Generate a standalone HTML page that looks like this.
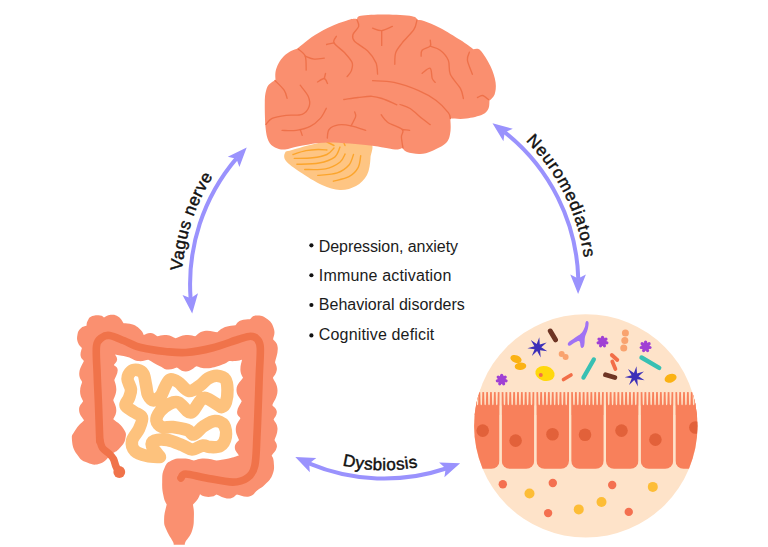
<!DOCTYPE html>
<html><head><meta charset="utf-8"><style>html,body{margin:0;padding:0;background:#fff;width:768px;height:547px;overflow:hidden}svg{display:block}</style></head>
<body><svg width="768" height="547" viewBox="0 0 768 547"><defs><path id="tv" d="M182.2,270.7 A202.5,202.5 0 0 1 497.1,116.4" fill="none"/><path id="tn" d="M525.7,141.0 A201.5,201.5 0 0 1 437.7,478.7" fill="none"/><path id="td" d="M342.4,465.5 A185.8,185.8 0 0 0 561.9,230.1" fill="none"/><clipPath id="mc"><circle cx="585.8" cy="425.9" r="111.7"/></clipPath></defs><path d="M285.0,153.0 C286.0,151.2 284.5,152.0 292.0,150.0 C299.5,148.0 317.2,142.3 330.0,141.0 C342.8,139.7 362.2,139.2 369.0,142.0 C375.8,144.8 370.8,152.5 370.5,158.0 C370.2,163.5 369.4,170.3 367.0,175.0 C364.6,179.7 360.5,183.5 356.0,186.0 C351.5,188.5 345.7,190.2 340.0,190.0 C334.3,189.8 328.7,188.0 322.0,185.0 C315.3,182.0 306.0,176.0 300.0,172.0 C294.0,168.0 288.5,164.2 286.0,161.0 C283.5,157.8 284.0,154.8 285.0,153.0Z" fill="#fec583"/><path d="M293.0,154.5 C295.2,153.8 301.8,151.4 306.0,150.6 C310.2,149.8 314.5,149.6 318.0,149.5 C321.5,149.4 325.4,149.9 326.9,150.0" fill="none" stroke="#fca52c" stroke-width="1.4" stroke-linecap="round"/><path d="M294.3,158.4 C297.4,158.3 307.2,158.5 312.6,157.8 C318.0,157.2 323.3,156.1 326.9,154.5 C330.5,152.9 332.8,149.1 334.0,148.0" fill="none" stroke="#fca52c" stroke-width="1.4" stroke-linecap="round"/><path d="M296.9,164.3 C300.6,164.1 312.7,164.2 319.0,163.0 C325.3,161.8 331.2,159.8 334.7,157.1 C338.2,154.4 339.1,148.7 340.0,147.0" fill="none" stroke="#fca52c" stroke-width="1.4" stroke-linecap="round"/><path d="M304.7,169.5 C308.2,169.4 319.7,170.1 325.6,168.9 C331.5,167.7 336.6,164.8 339.9,162.3 C343.1,159.8 344.2,155.4 345.1,154.0" fill="none" stroke="#fca52c" stroke-width="1.4" stroke-linecap="round"/><path d="M317.8,175.4 C321.1,175.0 332.1,174.5 337.3,172.8 C342.5,171.1 346.3,168.1 349.0,165.0 C351.7,161.9 352.8,156.2 353.5,154.5" fill="none" stroke="#fca52c" stroke-width="1.4" stroke-linecap="round"/><path d="M333.4,181.2 C336.0,180.4 344.9,179.0 349.0,176.7 C353.1,174.4 356.2,171.1 358.1,167.6 C360.1,164.1 360.3,157.8 360.7,155.8" fill="none" stroke="#fca52c" stroke-width="1.4" stroke-linecap="round"/><path d="M327.0,142.0 C328.2,142.6 332.8,144.9 334.0,145.5" fill="none" stroke="#fca52c" stroke-width="1.4" stroke-linecap="round"/><path d="M344.0,143.0 C344.2,143.4 344.8,145.1 345.0,145.5" fill="none" stroke="#fca52c" stroke-width="1.4" stroke-linecap="round"/><path d="M357.0,19.0 C357.7,18.5 356.2,16.5 361.0,15.8 C365.8,15.1 377.3,14.5 385.8,14.6 C394.3,14.7 406.8,15.4 412.1,16.3 C417.4,17.2 416.6,19.3 417.5,19.9 C418.6,20.1 420.2,19.6 424.0,21.0 C427.8,22.4 434.1,24.8 440.2,28.0 C446.3,31.2 454.9,36.6 460.4,40.1 C465.9,43.6 471.2,47.7 473.4,49.2 C474.6,49.4 477.6,47.6 480.5,50.5 C483.4,53.4 488.0,61.0 490.5,66.3 C493.0,71.6 494.9,77.7 495.6,82.4 C496.3,87.1 495.6,91.4 494.6,94.4 C493.6,97.4 490.4,99.5 489.5,100.5 C489.3,101.8 489.7,106.2 488.5,108.5 C487.3,110.8 486.2,112.9 482.5,114.6 C478.8,116.3 471.8,117.9 466.4,118.6 C461.0,119.3 453.0,118.6 450.3,118.6 C450.3,120.7 451.1,127.0 450.5,131.0 C449.9,135.0 449.6,139.2 446.5,142.5 C443.4,145.8 436.4,149.1 432.0,151.0 C427.6,152.9 424.2,153.8 420.0,154.0 C415.8,154.2 409.9,153.0 407.0,152.0 C404.1,151.0 403.2,148.7 402.5,148.0 C401.2,148.2 400.4,149.9 395.0,149.5 C389.6,149.1 381.2,146.7 370.0,145.5 C358.8,144.3 339.7,142.4 328.0,142.5 C316.3,142.6 307.2,144.8 300.0,146.0 C292.8,147.2 289.2,149.2 285.0,149.5 C280.8,149.8 277.8,148.9 275.0,147.5 C272.2,146.1 270.1,144.4 268.5,141.0 C266.9,137.6 266.1,133.5 265.5,127.0 C264.9,120.5 264.7,108.0 264.8,102.0 C264.9,96.0 265.3,93.9 266.0,91.0 C266.7,88.1 267.4,86.3 269.0,84.5 C270.6,82.7 274.4,80.8 275.5,80.0 C275.5,78.7 275.0,74.8 275.5,72.0 C276.0,69.2 277.1,66.2 278.5,63.5 C279.9,60.8 281.9,58.1 284.0,56.0 C286.1,53.9 288.8,52.2 291.0,51.0 C293.2,49.8 296.4,48.9 297.5,48.5 C298.4,47.8 300.1,46.2 303.0,44.0 C305.9,41.8 310.2,38.0 315.0,35.0 C319.8,32.0 326.2,28.6 332.0,26.0 C337.8,23.4 345.8,20.7 350.0,19.5 C354.2,18.3 355.8,19.1 357.0,19.0Z" fill="#fa8f6f"/><path d="M298.2,49.0 C299.4,50.2 303.9,52.6 305.2,56.1 C306.5,59.6 306.0,67.8 306.2,70.1" fill="none" stroke="#ee714a" stroke-width="1.35" stroke-linecap="round"/><path d="M305.2,56.1 C306.7,56.6 311.0,58.8 314.2,59.1 C317.4,59.4 322.6,58.3 324.3,58.1" fill="none" stroke="#ee714a" stroke-width="1.35" stroke-linecap="round"/><path d="M317.5,82.0 C318.6,81.4 322.6,78.2 324.3,78.5 C326.0,78.8 327.0,82.7 327.5,83.5" fill="none" stroke="#ee714a" stroke-width="1.35" stroke-linecap="round"/><path d="M324.3,78.5 C324.5,77.7 325.3,74.3 325.5,73.5" fill="none" stroke="#ee714a" stroke-width="1.35" stroke-linecap="round"/><path d="M275.0,80.5 C276.5,82.1 282.1,87.2 284.1,90.2 C286.1,93.2 286.6,97.0 287.1,98.3" fill="none" stroke="#ee714a" stroke-width="1.35" stroke-linecap="round"/><path d="M300.2,85.2 C301.5,87.0 306.7,92.8 308.2,96.3 C309.7,99.8 310.2,103.3 309.2,106.3 C308.2,109.3 306.0,112.8 302.2,114.3 C298.4,115.8 291.1,114.6 286.1,115.3 C281.1,116.0 275.5,116.9 272.1,118.4 C268.8,119.9 267.0,123.4 266.0,124.4" fill="none" stroke="#ee714a" stroke-width="1.35" stroke-linecap="round"/><path d="M326.3,108.3 C325.3,110.0 323.0,115.4 320.3,118.4 C317.6,121.4 314.2,124.4 310.2,126.4 C306.2,128.4 300.9,129.7 296.2,130.4 C291.5,131.1 284.5,130.4 282.1,130.4" fill="none" stroke="#ee714a" stroke-width="1.35" stroke-linecap="round"/><path d="M300.2,129.4 C300.5,130.4 301.9,134.4 302.2,135.4" fill="none" stroke="#ee714a" stroke-width="1.35" stroke-linecap="round"/><path d="M327.3,138.0 C327.6,136.6 327.3,131.7 329.1,129.5 C330.9,127.3 334.6,125.5 338.3,124.9 C342.0,124.3 346.5,124.9 351.1,125.8 C355.7,126.7 363.3,129.6 365.7,130.4" fill="none" stroke="#ee714a" stroke-width="1.35" stroke-linecap="round"/><path d="M351.1,125.8 C351.9,124.3 355.0,119.0 355.6,116.7 C356.2,114.4 354.9,112.8 354.7,112.0" fill="none" stroke="#ee714a" stroke-width="1.35" stroke-linecap="round"/><path d="M381.2,114.8 C382.3,116.0 384.1,119.8 387.6,122.2 C391.1,124.7 400.0,127.1 402.3,129.5 C404.6,131.9 401.3,133.7 401.4,136.8 C401.5,139.9 402.7,146.1 403.0,148.0" fill="none" stroke="#ee714a" stroke-width="1.35" stroke-linecap="round"/><path d="M402.3,129.5 C403.5,129.7 408.4,130.2 409.6,130.4" fill="none" stroke="#ee714a" stroke-width="1.35" stroke-linecap="round"/><path d="M400.0,104.5 C401.7,105.2 406.4,106.2 410.1,108.5 C413.8,110.8 418.8,115.9 422.1,118.6 C425.5,121.3 428.9,123.6 430.2,124.6" fill="none" stroke="#ee714a" stroke-width="1.35" stroke-linecap="round"/><path d="M343.8,99.5 C346.2,99.2 353.3,98.0 358.0,97.5 C362.7,97.0 368.0,96.1 372.0,96.3 C376.0,96.5 377.9,97.1 382.0,98.5 C386.1,99.9 394.3,103.8 396.8,104.8" fill="none" stroke="#ee714a" stroke-width="1.35" stroke-linecap="round"/><path d="M372.6,80.7 C376.2,81.0 386.3,80.8 394.0,82.4 C401.7,84.1 411.7,87.6 418.7,90.6 C425.7,93.6 431.3,96.8 436.2,100.5 C441.1,104.2 445.9,109.6 448.3,112.6 C450.7,115.6 450.0,117.6 450.3,118.6" fill="none" stroke="#ee714a" stroke-width="1.35" stroke-linecap="round"/><path d="M357.0,19.9 C357.3,21.0 359.4,23.9 358.7,26.4 C358.0,28.9 353.6,32.2 352.9,34.7 C352.2,37.2 352.0,38.6 354.5,41.3 C357.0,44.0 364.1,47.5 367.7,51.1 C371.3,54.7 374.2,58.8 375.9,62.6 C377.5,66.4 377.3,72.2 377.6,74.1" fill="none" stroke="#ee714a" stroke-width="1.35" stroke-linecap="round"/><path d="M372.6,28.1 C374.1,28.5 378.4,30.9 381.7,30.6 C385.0,30.3 390.6,27.1 392.4,26.4" fill="none" stroke="#ee714a" stroke-width="1.35" stroke-linecap="round"/><path d="M381.7,30.6 C381.7,33.1 381.7,42.9 381.7,45.4" fill="none" stroke="#ee714a" stroke-width="1.35" stroke-linecap="round"/><path d="M417.0,19.9 C416.5,21.5 416.3,25.9 413.8,29.7 C411.3,33.5 405.2,39.0 402.2,42.9 C399.2,46.8 396.9,49.2 395.7,52.8 C394.5,56.4 394.9,62.4 394.8,64.3" fill="none" stroke="#ee714a" stroke-width="1.35" stroke-linecap="round"/><path d="M336.4,36.3 C336.0,37.4 332.6,40.1 334.0,42.9 C335.4,45.6 341.7,49.5 344.7,52.8 C347.7,56.1 351.0,59.6 352.1,62.6 C353.2,65.6 352.1,68.6 351.3,70.9 C350.5,73.2 347.8,75.6 347.1,76.6" fill="none" stroke="#ee714a" stroke-width="1.35" stroke-linecap="round"/><path d="M334.0,42.9 C332.8,43.2 327.8,44.2 326.6,44.5" fill="none" stroke="#ee714a" stroke-width="1.35" stroke-linecap="round"/><path d="M430.2,40.1 C430.2,41.1 431.5,44.5 430.2,46.2 C428.9,47.9 423.6,48.5 422.1,50.2 C420.6,51.9 421.3,55.2 421.1,56.2" fill="none" stroke="#ee714a" stroke-width="1.35" stroke-linecap="round"/><path d="M430.2,46.2 C431.9,46.9 437.2,47.9 440.2,50.2 C443.2,52.5 446.6,56.2 448.3,60.2 C450.0,64.2 448.3,69.6 450.3,74.3 C452.3,79.0 458.2,84.4 460.4,88.4 C462.6,92.4 462.9,96.8 463.4,98.5" fill="none" stroke="#ee714a" stroke-width="1.35" stroke-linecap="round"/><path d="M422.1,73.3 C423.5,72.5 428.5,67.4 430.2,68.3 C431.9,69.2 431.4,76.1 432.2,78.4 C433.0,80.8 434.7,81.7 435.2,82.4" fill="none" stroke="#ee714a" stroke-width="1.35" stroke-linecap="round"/><path d="M469.4,52.2 C469.1,53.5 466.9,56.5 467.4,60.2 C467.9,63.9 471.6,72.0 472.4,74.3" fill="none" stroke="#ee714a" stroke-width="1.35" stroke-linecap="round"/><path d="M477.5,97.5 C478.3,97.2 480.7,95.2 482.5,95.5 C484.3,95.8 487.5,98.8 488.5,99.5" fill="none" stroke="#ee714a" stroke-width="1.35" stroke-linecap="round"/><path d="M190.6,298.6 A194.15,194.15 0 0 1 236.5,158.4" fill="none" stroke="#9a92fd" stroke-width="4"/><path d="M192.2,313.5 L182.5,294.9 L190.7,298.3 L198.0,293.3Z" fill="#9a92fd"/><path d="M246.7,147.4 L239.4,167.1 L236.4,158.8 L227.8,156.7Z" fill="#9a92fd"/><path d="M504.6,132.1 A194.15,194.15 0 0 1 578.3,278.9" fill="none" stroke="#9a92fd" stroke-width="4"/><path d="M492.5,123.3 L512.8,128.7 L504.7,132.4 L503.4,141.2Z" fill="#9a92fd"/><path d="M578.1,293.9 L570.3,274.4 L578.1,278.6 L585.9,274.4Z" fill="#9a92fd"/><path d="M446.0,468.5 A194.15,194.15 0 0 1 308.9,463.4" fill="none" stroke="#9a92fd" stroke-width="4"/><path d="M460.1,463.2 L444.4,477.2 L445.7,468.4 L439.1,462.5Z" fill="#9a92fd"/><path d="M295.3,457.0 L316.3,458.0 L309.2,463.4 L309.8,472.2Z" fill="#9a92fd"/><text font-family="Liberation Sans, sans-serif" font-size="17" fill="#111" stroke="#111" stroke-width="0.45" letter-spacing="0.6"><textPath href="#tv">Vagus nerve</textPath></text><text font-family="Liberation Sans, sans-serif" font-size="17" fill="#111" stroke="#111" stroke-width="0.45" letter-spacing="0.9"><textPath href="#tn">Neuromediators</textPath></text><text font-family="Liberation Sans, sans-serif" font-size="17" fill="#111" stroke="#111" stroke-width="0.45" letter-spacing="0.4"><textPath href="#td">Dysbiosis</textPath></text><circle cx="311.4" cy="245.3" r="2.1" fill="#111"/><text x="318.8" y="251.8" font-family="Liberation Sans, sans-serif" font-size="16" fill="#1b1b1b" textLength="139.2" lengthAdjust="spacing">Depression, anxiety</text><circle cx="311.4" cy="275.25" r="2.1" fill="#111"/><text x="318.8" y="281.1" font-family="Liberation Sans, sans-serif" font-size="16" fill="#1b1b1b" textLength="132.5" lengthAdjust="spacing">Immune activation</text><circle cx="311.4" cy="305.0" r="2.1" fill="#111"/><text x="318.8" y="310.3" font-family="Liberation Sans, sans-serif" font-size="16" fill="#1b1b1b" textLength="146" lengthAdjust="spacing">Behavioral disorders</text><circle cx="311.4" cy="335.4" r="2.1" fill="#111"/><text x="318.8" y="339.6" font-family="Liberation Sans, sans-serif" font-size="16" fill="#1b1b1b" textLength="115.5" lengthAdjust="spacing">Cognitive deficit</text><path d="M84.1,420.3 C82.8,417.8 79.3,415.0 79.1,410.2 C78.8,405.4 82.1,403.4 83.1,401.2 C82.3,398.9 80.3,396.9 80.1,392.1 C79.8,387.3 81.6,384.6 82.1,382.1 C81.4,379.8 78.8,378.0 79.3,372.7 C79.8,367.4 82.8,363.9 83.9,361.0 C83.1,359.7 81.1,359.1 80.6,355.8 C80.1,352.6 81.6,349.9 81.9,348.0 C80.9,346.7 79.1,346.1 78.0,342.8 C76.9,339.6 76.8,338.6 77.4,335.0 C78.1,331.4 78.3,330.7 80.6,328.4 C82.9,326.1 85.0,326.4 86.5,325.8 C86.8,324.5 86.3,323.0 87.8,320.6 C89.2,318.2 89.2,317.4 92.3,316.1 C95.4,314.8 97.3,315.1 100.2,315.4 C103.1,315.7 103.0,316.9 104.0,317.4 C105.7,316.8 107.0,315.0 110.6,314.8 C114.2,314.6 115.2,314.6 118.4,316.7 C121.7,318.8 122.3,321.6 123.6,323.2 C125.9,323.5 128.5,322.9 132.7,324.5 C136.9,326.1 137.7,327.1 140.5,329.7 C143.3,332.3 143.0,333.7 143.8,335.0 C145.6,334.5 147.5,332.7 150.9,333.0 C154.3,333.3 155.8,335.4 157.4,336.2 C159.7,335.9 161.9,334.5 166.5,335.0 C171.1,335.5 173.3,337.4 175.6,338.2 C178.2,337.4 181.1,335.5 186.0,335.0 C190.9,334.5 192.9,335.9 195.2,336.2 C197.5,334.9 198.8,332.0 204.3,331.0 C209.8,330.0 214.1,332.0 217.3,332.3 C219.2,331.0 220.6,328.9 225.1,327.1 C229.6,325.3 232.9,325.7 235.5,325.2 C236.8,324.1 237.1,322.1 240.7,320.6 C244.3,319.1 247.5,319.6 249.8,319.3 C251.4,318.3 251.9,315.4 256.4,315.4 C260.8,315.4 263.2,315.7 267.6,319.2 C272.0,322.7 272.6,324.3 274.0,329.3 C275.4,334.3 273.3,336.8 273.1,339.3 C274.2,341.4 277.2,341.8 277.7,347.5 C278.2,353.2 275.7,358.5 275.0,362.2 C275.4,364.1 277.3,366.1 276.8,370.0 C276.3,373.9 273.9,375.9 272.9,377.8 C274.0,381.1 277.6,384.0 277.5,390.8 C277.4,397.6 273.6,401.6 272.3,405.2 C273.4,406.8 276.5,408.1 276.8,411.7 C277.1,415.3 274.4,417.6 273.6,419.5 C274.6,421.8 277.3,423.5 277.5,428.6 C277.7,433.7 275.2,437.1 274.5,440.0 C275.1,441.8 277.5,443.4 276.8,447.3 C276.1,451.2 273.0,453.4 271.7,455.5 C272.2,457.0 273.4,457.0 273.7,461.6 C273.9,466.2 274.8,468.3 272.7,473.9 C270.6,479.5 269.3,480.0 265.5,484.1 C261.7,488.2 261.5,487.2 257.4,490.3 C253.3,493.4 254.3,495.4 249.2,496.4 C244.1,497.4 240.0,494.9 236.9,494.4 C234.8,495.4 233.8,498.5 228.7,498.5 C223.6,498.5 219.5,495.4 216.4,494.4 C215.3,494.9 214.8,496.0 212.0,496.5 C209.2,497.0 208.0,497.1 205.0,496.5 C202.0,495.9 201.2,494.8 200.0,494.2 C199.4,495.4 199.6,496.4 197.8,499.0 C196.1,501.6 194.2,503.2 193.0,504.6 C193.2,507.5 194.2,509.4 193.9,516.0 C193.7,522.6 194.2,524.4 192.0,531.0 C189.8,537.6 186.8,538.8 185.3,542.3 C183.8,545.8 185.8,544.2 186.0,544.8 C182.6,544.8 175.9,544.8 172.5,544.8 C172.7,544.2 174.7,546.0 173.2,542.3 C171.7,538.6 168.8,535.8 166.5,530.0 C164.2,524.2 164.1,525.6 164.1,519.2 C164.1,512.9 166.0,508.2 166.7,504.6 C165.9,502.5 164.6,501.6 163.5,496.0 C162.4,490.4 162.0,488.9 162.2,482.1 C162.4,475.3 161.9,474.2 164.2,468.8 C166.5,463.4 166.5,463.2 171.4,460.6 C176.3,458.0 178.1,458.5 183.7,458.5 C189.3,458.5 191.3,460.1 193.9,460.6 C196.4,460.1 198.5,458.5 204.1,458.5 C209.7,458.5 213.3,460.1 216.4,460.6 C219.5,460.1 223.1,459.8 228.7,458.5 C234.3,457.2 236.3,456.2 238.9,455.5 C237.9,453.4 234.8,451.2 234.8,447.3 C234.8,443.4 237.9,441.8 239.0,440.0 C238.2,437.1 235.5,434.1 235.8,428.6 C236.2,423.2 239.2,420.8 240.4,418.2 C239.6,416.6 236.8,415.9 237.1,411.7 C237.4,407.5 240.5,403.9 241.7,401.2 C240.4,398.3 236.2,395.4 236.5,389.5 C236.8,383.6 241.4,380.7 243.0,377.8 C242.3,375.9 240.7,374.5 240.4,370.0 C240.2,365.5 241.6,362.3 242.0,359.7 C240.4,360.0 238.8,360.7 235.5,361.0 C232.2,361.3 230.6,361.0 229.0,361.0 C227.1,362.0 226.7,363.1 221.2,364.9 C215.7,366.7 213.1,367.9 206.9,368.2 C200.7,368.5 199.1,366.7 196.5,366.2 C193.9,367.5 190.9,371.1 186.0,371.4 C181.1,371.7 179.2,368.5 176.9,367.5 C174.6,368.0 172.0,369.8 167.8,369.5 C163.6,369.2 164.9,368.6 160.0,366.2 C155.1,363.8 151.2,361.3 148.3,359.7 C145.7,360.0 143.1,361.6 137.9,361.0 C132.7,360.4 133.2,358.7 127.5,357.1 C121.8,355.5 118.2,355.1 115.1,354.5 C115.6,355.8 117.4,357.1 117.1,359.7 C116.8,362.3 114.6,363.6 113.8,364.9 C114.8,366.2 117.6,366.3 117.7,370.1 C117.8,373.9 115.2,377.6 114.3,380.1 C114.8,382.6 116.5,385.1 116.3,390.1 C116.0,395.1 114.0,397.7 113.3,400.2 C114.0,402.7 116.3,405.4 116.3,410.2 C116.3,415.0 114.0,417.0 113.3,419.3 C115.8,421.6 120.3,423.6 123.3,428.4 C126.3,433.2 126.4,433.4 125.4,438.4 C124.4,443.4 122.8,444.5 119.3,448.5 C115.8,452.5 116.1,450.7 111.3,454.5 C106.5,458.3 106.2,461.6 100.2,463.6 C94.2,465.6 92.9,464.9 87.1,462.6 C81.3,460.3 80.9,460.1 77.1,454.5 C73.3,448.9 72.5,446.4 72.0,440.4 C71.5,434.4 72.1,435.4 75.1,430.4 C78.1,425.4 81.8,422.8 84.1,420.3Z" fill="#fa9070"/><path d="M99.8,441.0 C99.6,435.0 98.9,416.0 98.5,405.0 C98.1,394.0 97.5,384.8 97.2,375.0 C96.9,365.2 95.7,352.2 96.5,346.0 C97.3,339.8 99.8,339.2 102.0,337.5 C104.2,335.8 105.9,335.0 109.5,335.5 C113.1,336.0 119.1,338.7 123.6,340.5 C128.1,342.3 132.3,344.9 136.6,346.4 C140.9,347.9 144.9,348.4 149.6,349.3 C154.3,350.2 158.9,351.0 165.0,351.5 C171.1,352.0 178.2,353.1 186.0,352.5 C193.8,351.9 203.3,350.2 212.0,348.0 C220.7,345.8 231.7,341.5 238.1,339.5 C244.5,337.5 247.3,336.2 250.5,336.2 C253.7,336.2 255.9,337.5 257.5,339.5 C259.1,341.5 260.0,342.1 260.3,348.0 C260.6,353.9 259.9,360.5 259.3,375.0 C258.8,389.5 257.8,419.9 257.0,435.0 C256.2,450.1 256.4,458.5 254.8,465.7 C253.2,472.9 250.8,475.3 247.1,478.0 C243.4,480.7 239.6,482.1 232.8,482.1 C226.0,482.1 214.0,479.4 206.2,478.0 C198.3,476.6 189.9,474.0 185.7,474.0 C181.5,474.0 181.8,477.3 181.0,478.0" fill="none" stroke="#f0734a" stroke-width="7.6" stroke-linecap="round" stroke-linejoin="round"/><path d="M99.8,440.0 C100.2,441.3 101.0,445.8 102.5,448.0 C104.0,450.2 107.2,451.7 109.0,453.5 C110.8,455.3 112.4,456.9 113.5,459.0 C114.6,461.1 114.9,463.8 115.8,466.0 C116.7,468.2 118.5,471.0 119.0,472.0" fill="none" stroke="#f0734a" stroke-width="7.4" stroke-linecap="round"/><circle cx="119.3" cy="472" r="5.9" fill="#f0734a"/><path d="M160.0,457.0 C157.8,456.8 151.2,457.0 147.0,456.0 C142.8,455.0 137.5,453.5 135.0,451.0 C132.5,448.5 131.3,444.7 132.0,441.0 C132.7,437.3 137.3,432.9 139.0,429.0 C140.7,425.1 142.8,420.3 142.0,417.5 C141.2,414.7 136.8,414.0 134.0,412.0 C131.2,410.0 126.3,407.8 125.5,405.5 C124.7,403.2 128.1,400.7 129.0,398.0 C129.9,395.3 131.2,392.7 131.0,389.5 C130.8,386.3 127.5,382.0 127.5,379.0 C127.5,376.0 129.3,373.0 131.0,371.5 C132.7,370.0 135.4,369.6 137.5,370.0 C139.6,370.4 142.1,371.5 143.5,374.0 C144.9,376.5 145.2,381.5 146.0,385.0 C146.8,388.5 146.8,392.4 148.0,395.0 C149.2,397.6 151.3,400.4 153.5,400.5 C155.7,400.6 159.1,397.8 161.0,395.5 C162.9,393.2 163.5,389.7 165.0,387.0 C166.5,384.3 167.8,380.3 170.0,379.5 C172.2,378.7 174.8,380.1 178.0,382.0 C181.2,383.9 185.3,390.4 189.0,391.0 C192.7,391.6 196.8,387.6 200.0,385.5 C203.2,383.4 205.2,380.1 208.0,378.5 C210.8,376.9 214.1,375.6 217.0,375.8 C219.9,376.0 223.8,377.1 225.5,379.5 C227.2,381.9 227.4,386.2 227.5,390.0 C227.6,393.8 226.9,399.2 226.0,402.0 C225.1,404.8 223.3,406.5 222.0,407.0 C220.7,407.5 221.1,406.7 218.4,405.2 C215.7,403.7 209.0,398.8 206.0,398.0 C203.0,397.2 203.1,398.1 200.5,400.5 C197.9,402.9 194.2,412.2 190.5,412.5 C186.8,412.8 182.1,403.9 178.5,402.5 C174.9,401.1 172.3,402.5 169.2,404.0 C166.1,405.5 162.1,408.8 160.0,411.5 C157.9,414.2 156.1,417.9 156.4,420.5 C156.7,423.1 159.3,425.9 162.0,427.0 C164.7,428.1 168.6,426.5 172.8,427.0 C177.0,427.5 183.9,428.8 187.4,430.0 C190.9,431.2 191.2,435.2 194.0,434.5 C196.8,433.8 200.4,428.2 203.9,426.0 C207.4,423.8 211.5,421.2 214.8,421.0 C218.2,420.8 222.2,422.3 224.0,425.0 C225.8,427.7 226.4,433.5 225.8,437.0 C225.2,440.5 223.1,444.3 220.3,446.0 C217.6,447.7 212.2,447.1 209.3,447.0 C206.4,446.9 205.9,445.1 203.0,445.5 C200.1,445.9 195.5,449.6 192.0,449.5 C188.5,449.4 186.0,446.6 181.9,445.0 C177.8,443.4 171.9,440.7 167.3,440.0 C162.7,439.3 157.1,439.6 154.5,440.6 C151.9,441.6 151.1,443.3 152.0,446.0 C152.9,448.7 158.7,455.2 160.0,457.0" fill="none" stroke="#fdc27d" stroke-width="12.5" stroke-linecap="round" stroke-linejoin="round"/><circle cx="585.8" cy="425.9" r="111.7" fill="#fee3c9"/><g clip-path="url(#mc)"><rect x="460" y="392.1" width="260" height="13.5" fill="#f8805b"/><rect x="432.20" y="395" width="32.55" height="73.75" rx="8" fill="#f8805b"/><rect x="432.20" y="395" width="32.55" height="20" fill="#f8805b"/><path d="M433.81,389 L436.11,389 L435.66,404.2 Q434.96,406.2 434.26,404.2Z" fill="#fee3c9"/><path d="M437.67,389 L439.97,389 L439.52,404.2 Q438.82,406.2 438.12,404.2Z" fill="#fee3c9"/><path d="M441.53,389 L443.83,389 L443.38,404.2 Q442.68,406.2 441.98,404.2Z" fill="#fee3c9"/><path d="M445.39,389 L447.69,389 L447.24,404.2 Q446.54,406.2 445.84,404.2Z" fill="#fee3c9"/><path d="M449.26,389 L451.56,389 L451.11,404.2 Q450.41,406.2 449.71,404.2Z" fill="#fee3c9"/><path d="M453.12,389 L455.42,389 L454.97,404.2 Q454.27,406.2 453.57,404.2Z" fill="#fee3c9"/><path d="M456.98,389 L459.28,389 L458.83,404.2 Q458.13,406.2 457.43,404.2Z" fill="#fee3c9"/><path d="M460.84,389 L463.14,389 L462.69,404.2 Q461.99,406.2 461.29,404.2Z" fill="#fee3c9"/><rect x="466.95" y="395" width="32.55" height="73.75" rx="8" fill="#f8805b"/><rect x="466.95" y="395" width="32.55" height="20" fill="#f8805b"/><path d="M468.56,389 L470.86,389 L470.41,404.2 Q469.71,406.2 469.01,404.2Z" fill="#fee3c9"/><path d="M472.42,389 L474.72,389 L474.27,404.2 Q473.57,406.2 472.87,404.2Z" fill="#fee3c9"/><path d="M476.28,389 L478.58,389 L478.13,404.2 Q477.43,406.2 476.73,404.2Z" fill="#fee3c9"/><path d="M480.14,389 L482.44,389 L481.99,404.2 Q481.29,406.2 480.59,404.2Z" fill="#fee3c9"/><path d="M484.01,389 L486.31,389 L485.86,404.2 Q485.16,406.2 484.46,404.2Z" fill="#fee3c9"/><path d="M487.87,389 L490.17,389 L489.72,404.2 Q489.02,406.2 488.32,404.2Z" fill="#fee3c9"/><path d="M491.73,389 L494.03,389 L493.58,404.2 Q492.88,406.2 492.18,404.2Z" fill="#fee3c9"/><path d="M495.59,389 L497.89,389 L497.44,404.2 Q496.74,406.2 496.04,404.2Z" fill="#fee3c9"/><rect x="501.70" y="395" width="32.55" height="73.75" rx="8" fill="#f8805b"/><rect x="501.70" y="395" width="32.55" height="20" fill="#f8805b"/><path d="M503.31,389 L505.61,389 L505.16,404.2 Q504.46,406.2 503.76,404.2Z" fill="#fee3c9"/><path d="M507.17,389 L509.47,389 L509.02,404.2 Q508.32,406.2 507.62,404.2Z" fill="#fee3c9"/><path d="M511.03,389 L513.33,389 L512.88,404.2 Q512.18,406.2 511.48,404.2Z" fill="#fee3c9"/><path d="M514.89,389 L517.19,389 L516.74,404.2 Q516.04,406.2 515.34,404.2Z" fill="#fee3c9"/><path d="M518.76,389 L521.06,389 L520.61,404.2 Q519.91,406.2 519.21,404.2Z" fill="#fee3c9"/><path d="M522.62,389 L524.92,389 L524.47,404.2 Q523.77,406.2 523.07,404.2Z" fill="#fee3c9"/><path d="M526.48,389 L528.78,389 L528.33,404.2 Q527.63,406.2 526.93,404.2Z" fill="#fee3c9"/><path d="M530.34,389 L532.64,389 L532.19,404.2 Q531.49,406.2 530.79,404.2Z" fill="#fee3c9"/><rect x="536.45" y="395" width="32.55" height="73.75" rx="8" fill="#f8805b"/><rect x="536.45" y="395" width="32.55" height="20" fill="#f8805b"/><path d="M538.06,389 L540.36,389 L539.91,404.2 Q539.21,406.2 538.51,404.2Z" fill="#fee3c9"/><path d="M541.92,389 L544.22,389 L543.77,404.2 Q543.07,406.2 542.37,404.2Z" fill="#fee3c9"/><path d="M545.78,389 L548.08,389 L547.63,404.2 Q546.93,406.2 546.23,404.2Z" fill="#fee3c9"/><path d="M549.64,389 L551.94,389 L551.49,404.2 Q550.79,406.2 550.09,404.2Z" fill="#fee3c9"/><path d="M553.51,389 L555.81,389 L555.36,404.2 Q554.66,406.2 553.96,404.2Z" fill="#fee3c9"/><path d="M557.37,389 L559.67,389 L559.22,404.2 Q558.52,406.2 557.82,404.2Z" fill="#fee3c9"/><path d="M561.23,389 L563.53,389 L563.08,404.2 Q562.38,406.2 561.68,404.2Z" fill="#fee3c9"/><path d="M565.09,389 L567.39,389 L566.94,404.2 Q566.24,406.2 565.54,404.2Z" fill="#fee3c9"/><rect x="571.20" y="395" width="32.55" height="73.75" rx="8" fill="#f8805b"/><rect x="571.20" y="395" width="32.55" height="20" fill="#f8805b"/><path d="M572.81,389 L575.11,389 L574.66,404.2 Q573.96,406.2 573.26,404.2Z" fill="#fee3c9"/><path d="M576.67,389 L578.97,389 L578.52,404.2 Q577.82,406.2 577.12,404.2Z" fill="#fee3c9"/><path d="M580.53,389 L582.83,389 L582.38,404.2 Q581.68,406.2 580.98,404.2Z" fill="#fee3c9"/><path d="M584.39,389 L586.69,389 L586.24,404.2 Q585.54,406.2 584.84,404.2Z" fill="#fee3c9"/><path d="M588.26,389 L590.56,389 L590.11,404.2 Q589.41,406.2 588.71,404.2Z" fill="#fee3c9"/><path d="M592.12,389 L594.42,389 L593.97,404.2 Q593.27,406.2 592.57,404.2Z" fill="#fee3c9"/><path d="M595.98,389 L598.28,389 L597.83,404.2 Q597.13,406.2 596.43,404.2Z" fill="#fee3c9"/><path d="M599.84,389 L602.14,389 L601.69,404.2 Q600.99,406.2 600.29,404.2Z" fill="#fee3c9"/><rect x="605.95" y="395" width="32.55" height="73.75" rx="8" fill="#f8805b"/><rect x="605.95" y="395" width="32.55" height="20" fill="#f8805b"/><path d="M607.56,389 L609.86,389 L609.41,404.2 Q608.71,406.2 608.01,404.2Z" fill="#fee3c9"/><path d="M611.42,389 L613.72,389 L613.27,404.2 Q612.57,406.2 611.87,404.2Z" fill="#fee3c9"/><path d="M615.28,389 L617.58,389 L617.13,404.2 Q616.43,406.2 615.73,404.2Z" fill="#fee3c9"/><path d="M619.14,389 L621.44,389 L620.99,404.2 Q620.29,406.2 619.59,404.2Z" fill="#fee3c9"/><path d="M623.01,389 L625.31,389 L624.86,404.2 Q624.16,406.2 623.46,404.2Z" fill="#fee3c9"/><path d="M626.87,389 L629.17,389 L628.72,404.2 Q628.02,406.2 627.32,404.2Z" fill="#fee3c9"/><path d="M630.73,389 L633.03,389 L632.58,404.2 Q631.88,406.2 631.18,404.2Z" fill="#fee3c9"/><path d="M634.59,389 L636.89,389 L636.44,404.2 Q635.74,406.2 635.04,404.2Z" fill="#fee3c9"/><rect x="640.70" y="395" width="32.55" height="73.75" rx="8" fill="#f8805b"/><rect x="640.70" y="395" width="32.55" height="20" fill="#f8805b"/><path d="M642.31,389 L644.61,389 L644.16,404.2 Q643.46,406.2 642.76,404.2Z" fill="#fee3c9"/><path d="M646.17,389 L648.47,389 L648.02,404.2 Q647.32,406.2 646.62,404.2Z" fill="#fee3c9"/><path d="M650.03,389 L652.33,389 L651.88,404.2 Q651.18,406.2 650.48,404.2Z" fill="#fee3c9"/><path d="M653.89,389 L656.19,389 L655.74,404.2 Q655.04,406.2 654.34,404.2Z" fill="#fee3c9"/><path d="M657.76,389 L660.06,389 L659.61,404.2 Q658.91,406.2 658.21,404.2Z" fill="#fee3c9"/><path d="M661.62,389 L663.92,389 L663.47,404.2 Q662.77,406.2 662.07,404.2Z" fill="#fee3c9"/><path d="M665.48,389 L667.78,389 L667.33,404.2 Q666.63,406.2 665.93,404.2Z" fill="#fee3c9"/><path d="M669.34,389 L671.64,389 L671.19,404.2 Q670.49,406.2 669.79,404.2Z" fill="#fee3c9"/><rect x="675.45" y="395" width="32.55" height="73.75" rx="8" fill="#f8805b"/><rect x="675.45" y="395" width="32.55" height="20" fill="#f8805b"/><path d="M677.06,389 L679.36,389 L678.91,404.2 Q678.21,406.2 677.51,404.2Z" fill="#fee3c9"/><path d="M680.92,389 L683.22,389 L682.77,404.2 Q682.07,406.2 681.37,404.2Z" fill="#fee3c9"/><path d="M684.78,389 L687.08,389 L686.63,404.2 Q685.93,406.2 685.23,404.2Z" fill="#fee3c9"/><path d="M688.64,389 L690.94,389 L690.49,404.2 Q689.79,406.2 689.09,404.2Z" fill="#fee3c9"/><path d="M692.51,389 L694.81,389 L694.36,404.2 Q693.66,406.2 692.96,404.2Z" fill="#fee3c9"/><path d="M696.37,389 L698.67,389 L698.22,404.2 Q697.52,406.2 696.82,404.2Z" fill="#fee3c9"/><path d="M700.23,389 L702.53,389 L702.08,404.2 Q701.38,406.2 700.68,404.2Z" fill="#fee3c9"/><path d="M704.09,389 L706.39,389 L705.94,404.2 Q705.24,406.2 704.54,404.2Z" fill="#fee3c9"/><rect x="430.00" y="389" width="2.2" height="82" fill="#fee3c9"/><rect x="464.75" y="389" width="2.2" height="82" fill="#fee3c9"/><rect x="499.50" y="389" width="2.2" height="82" fill="#fee3c9"/><rect x="534.25" y="389" width="2.2" height="82" fill="#fee3c9"/><rect x="569.00" y="389" width="2.2" height="82" fill="#fee3c9"/><rect x="603.75" y="389" width="2.2" height="82" fill="#fee3c9"/><rect x="638.50" y="389" width="2.2" height="82" fill="#fee3c9"/><rect x="673.25" y="389" width="2.2" height="82" fill="#fee3c9"/><rect x="708.00" y="389" width="2.2" height="82" fill="#fee3c9"/><circle cx="482.7" cy="430.6" r="6.3" fill="#e2613a"/><circle cx="515.6" cy="440.6" r="6.3" fill="#e2613a"/><circle cx="552.5" cy="434.2" r="6.3" fill="#e2613a"/><circle cx="585" cy="434.8" r="6.3" fill="#e2613a"/><circle cx="621.5" cy="430.6" r="6.3" fill="#e2613a"/><circle cx="655.4" cy="439.6" r="6.3" fill="#e2613a"/><circle cx="695.4" cy="427.5" r="6.3" fill="#e2613a"/><circle cx="502.8" cy="484.2" r="4.2" fill="#f47050"/><circle cx="552.8" cy="483" r="4.2" fill="#f47050"/><circle cx="612.2" cy="485" r="4.2" fill="#f47050"/><circle cx="548.1" cy="513.1" r="4.2" fill="#f47050"/><circle cx="628.75" cy="511.9" r="4.2" fill="#f47050"/><circle cx="529.5" cy="493.5" r="5" fill="#fdbd36"/><circle cx="578.75" cy="509.4" r="5" fill="#fdbd36"/><circle cx="601.5" cy="502" r="5" fill="#fdbd36"/><circle cx="652.8" cy="486.9" r="5" fill="#fdbd36"/><line x1="550.3" y1="331" x2="555.5" y2="339.8" stroke="#6e3524" stroke-width="5" stroke-linecap="round"/><polygon points="539.3,337.3 539.8,344.5 546.7,342.4 541.3,347.3 547.3,351.3 540.1,350.2 540.7,357.4 537.1,351.1 531.8,356.0 534.6,349.3 527.4,348.2 534.4,346.2 530.8,339.9 536.7,344.1" fill="#3d30b8"/><polygon points="636.5,366.3 637.0,373.5 643.9,371.4 638.5,376.3 644.5,380.3 637.3,379.2 637.9,386.4 634.3,380.1 629.0,385.0 631.8,378.3 624.6,377.2 631.6,375.2 628.0,368.9 633.9,373.1" fill="#3d30b8"/><path d="M587.2,321.0 C587.7,321.1 588.5,321.6 588.6,323.0 C588.7,324.4 588.2,327.4 587.6,329.7 C587.0,332.0 585.5,334.9 585.0,337.0 C584.5,339.1 584.8,341.0 584.6,342.6 C584.4,344.2 584.3,345.6 583.9,346.5 C583.5,347.4 582.5,348.0 582.0,348.0 C581.5,348.0 580.9,347.4 580.6,346.5 C580.3,345.6 580.3,343.5 580.0,342.6 C579.7,341.7 579.5,341.0 578.6,341.0 C577.8,341.0 576.4,341.7 574.9,342.5 C573.4,343.3 570.9,345.5 569.7,345.8 C568.5,346.1 568.0,345.1 567.8,344.5 C567.6,343.9 568.0,343.2 568.5,342.5 C569.0,341.8 569.4,341.5 570.8,340.5 C572.2,339.5 574.8,337.9 576.7,336.5 C578.6,335.1 580.6,334.0 582.0,332.4 C583.4,330.8 584.3,328.5 584.9,326.8 C585.5,325.1 585.2,323.4 585.6,322.4 C586.0,321.4 586.7,320.9 587.2,321.0Z" fill="#a072f4"/><circle cx="602.5" cy="341.8" r="4.25" fill="#a040d4"/><circle cx="602.50" cy="337.32" r="1.59" fill="#a040d4"/><circle cx="606.01" cy="339.00" r="1.59" fill="#a040d4"/><circle cx="606.87" cy="342.80" r="1.59" fill="#a040d4"/><circle cx="604.45" cy="345.84" r="1.59" fill="#a040d4"/><circle cx="600.55" cy="345.84" r="1.59" fill="#a040d4"/><circle cx="598.13" cy="342.80" r="1.59" fill="#a040d4"/><circle cx="598.99" cy="339.00" r="1.59" fill="#a040d4"/><circle cx="645.6" cy="346.5" r="4.25" fill="#a040d4"/><circle cx="645.60" cy="342.02" r="1.59" fill="#a040d4"/><circle cx="649.11" cy="343.70" r="1.59" fill="#a040d4"/><circle cx="649.97" cy="347.50" r="1.59" fill="#a040d4"/><circle cx="647.55" cy="350.54" r="1.59" fill="#a040d4"/><circle cx="643.65" cy="350.54" r="1.59" fill="#a040d4"/><circle cx="641.23" cy="347.50" r="1.59" fill="#a040d4"/><circle cx="642.09" cy="343.70" r="1.59" fill="#a040d4"/><circle cx="501.7" cy="379.8" r="4.25" fill="#a040d4"/><circle cx="501.70" cy="375.32" r="1.59" fill="#a040d4"/><circle cx="505.21" cy="377.00" r="1.59" fill="#a040d4"/><circle cx="506.07" cy="380.80" r="1.59" fill="#a040d4"/><circle cx="503.65" cy="383.84" r="1.59" fill="#a040d4"/><circle cx="499.75" cy="383.84" r="1.59" fill="#a040d4"/><circle cx="497.33" cy="380.80" r="1.59" fill="#a040d4"/><circle cx="498.19" cy="377.00" r="1.59" fill="#a040d4"/><circle cx="625.4" cy="332.9" r="3.5" fill="#f9a36f"/><circle cx="624.8" cy="340.6" r="3.5" fill="#f9a36f"/><circle cx="623.75" cy="348.1" r="3.5" fill="#f9a36f"/><circle cx="561.7" cy="353.9" r="3" fill="#f9a36f"/><circle cx="565.6" cy="357" r="3" fill="#f9a36f"/><ellipse cx="516" cy="359" rx="5.8" ry="3.8" transform="rotate(20 516 359)" fill="#fbb214"/><ellipse cx="520.5" cy="366.3" rx="5.8" ry="3.8" transform="rotate(-5 520.5 366.3)" fill="#fbb214"/><ellipse cx="545" cy="373.5" rx="9.8" ry="7.4" transform="rotate(15 545 373.5)" fill="#ffd80c"/><circle cx="540.8" cy="375" r="2" fill="#f26e48"/><line x1="563.5" y1="379.5" x2="571" y2="375" stroke="#f26e48" stroke-width="3.6" stroke-linecap="round"/><line x1="583.5" y1="377.5" x2="593.8" y2="359.5" stroke="#38c0b3" stroke-width="4.4" stroke-linecap="round"/><line x1="641.5" y1="357.5" x2="659.2" y2="367.9" stroke="#38c0b3" stroke-width="4.4" stroke-linecap="round"/><line x1="611.8" y1="355" x2="617.3" y2="360" stroke="#f26e48" stroke-width="3.8" stroke-linecap="round"/><line x1="612.3" y1="361.5" x2="615.4" y2="369" stroke="#f26e48" stroke-width="3.8" stroke-linecap="round"/><line x1="605.5" y1="374.8" x2="614.8" y2="377.5" stroke="#6e3524" stroke-width="4.8" stroke-linecap="round"/><ellipse cx="670.6" cy="378.3" rx="6.2" ry="4.2" transform="rotate(-20 670.6 378.3)" fill="#fbb214"/></g></svg></body></html>
